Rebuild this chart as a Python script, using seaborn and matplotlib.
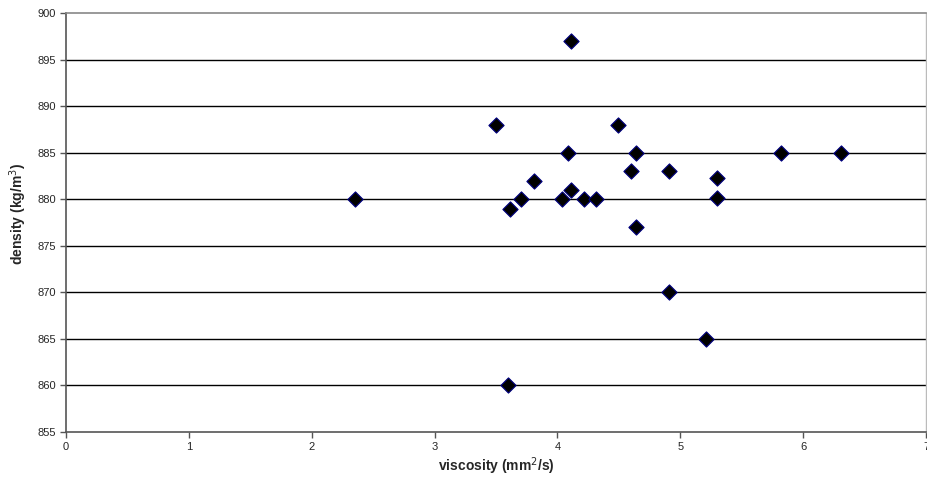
import matplotlib
matplotlib.use("Agg")
import matplotlib.pyplot as plt
import seaborn as sns
import pandas as pd

viscosity = [2.35, 3.50, 3.60, 3.61, 3.70, 3.81, 4.04, 4.09, 4.11, 4.11, 4.22, 4.31,
             4.49, 4.60, 4.64, 4.64, 4.91, 4.91, 5.21, 5.30, 5.30, 5.82, 6.31]
density = [880, 888, 860, 879, 880, 882, 880, 885, 897, 881, 880, 880,
           888, 883, 885, 877, 883, 870, 865, 882.3, 880.1, 885, 885]
x_ticks = [0, 1, 2, 3, 4, 5, 6, 7]
y_ticks = [855, 860, 865, 870, 875, 880, 885, 890, 895, 900]

df = pd.DataFrame({"viscosity": viscosity, "density": density})

sns.set_theme(style="white")
plt.rcParams['font.family'] = ['Liberation Sans', 'DejaVu Sans']

fig = plt.figure(figsize=(9.27, 4.84), dpi=100)
ax = fig.add_axes([66/927, 1-432/484, (926-66)/927, (432-13)/484])

for yv in y_ticks[1:-1]:
    ax.axhline(yv, color="black", lw=1.0, zorder=1)

sns.scatterplot(data=df, x="viscosity", y="density", ax=ax, marker="D", s=60,
                color="black", edgecolor="#000080", linewidth=0.8, zorder=3)

ax.set_xlim(0, 7)
ax.set_ylim(855, 900)
ax.set_xticks(x_ticks)
ax.set_yticks(y_ticks)
ax.set_xticklabels([str(v) for v in x_ticks], fontsize=8)
ax.set_yticklabels([str(v) for v in y_ticks], fontsize=8)
ax.tick_params(axis="both", which="both", direction="out", length=4, width=1,
               color="#555555", pad=3, bottom=True, left=True)

ax.spines["left"].set_color("#555555")
ax.spines["left"].set_linewidth(1.2)
ax.spines["bottom"].set_color("#555555")
ax.spines["bottom"].set_linewidth(1.2)
ax.spines["top"].set_color("#888888")
ax.spines["top"].set_linewidth(1.2)
ax.spines["right"].set_color("#bbbbbb")
ax.spines["right"].set_linewidth(1.0)

ax.set_xlabel("viscosity (mm$^2$/s)", fontsize=10, fontweight="bold", va="center")
ax.xaxis.set_label_coords(0.5, -0.081)
ax.set_ylabel("density (kg/m$^3$)", fontsize=10, fontweight="bold", va="center")
ax.yaxis.set_label_coords(-0.056, 0.52)

fig.savefig("out.png", dpi=100)
